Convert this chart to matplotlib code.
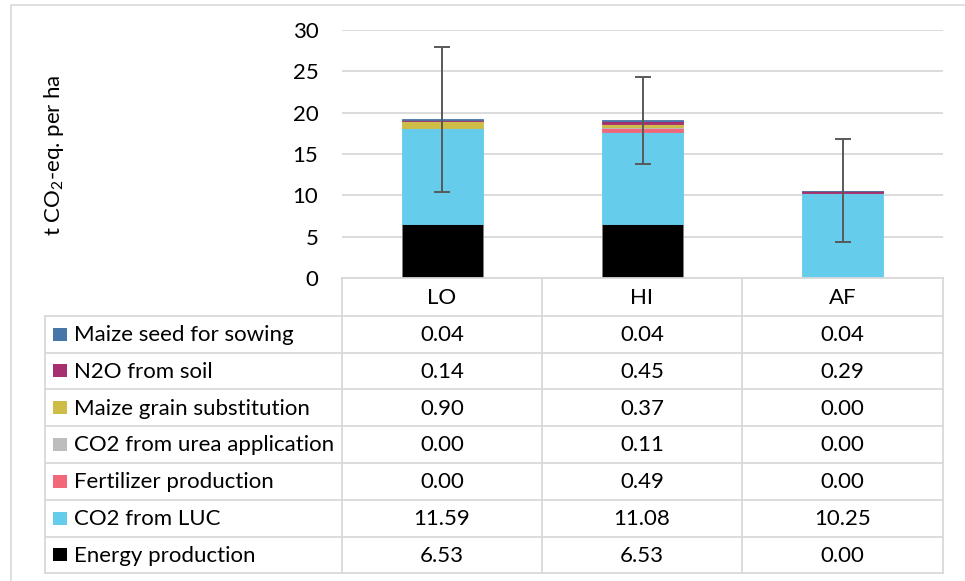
import matplotlib
matplotlib.use("Agg")
import matplotlib.pyplot as plt
from matplotlib.patches import Rectangle
from matplotlib.lines import Line2D

plt.rcParams['font.family'] = ['Lato', 'DejaVu Sans']
plt.rcParams['mathtext.fontset'] = 'custom'
plt.rcParams['mathtext.rm'] = 'Lato'
plt.rcParams['mathtext.default'] = 'regular'

categories = ["LO", "HI", "AF"]
# bottom to top stacking order
series_names = ["Energy production", "CO2 from LUC", "Fertilizer production",
                "CO2 from urea application", "Maize grain substitution",
                "N2O from soil", "Maize seed for sowing"]
energy = [6.53, 6.53, 0.00]
luc = [11.59, 11.08, 10.25]
fertilizer = [0.00, 0.49, 0.00]
urea = [0.00, 0.11, 0.00]
grain = [0.90, 0.37, 0.00]
n2o = [0.14, 0.45, 0.29]
seed = [0.04, 0.04, 0.04]
errors = [8.77, 5.25, 6.19]
yticks = [0, 5, 10, 15, 20, 25, 30]

series_values = [energy, luc, fertilizer, urea, grain, n2o, seed]
colors = ["#000000", "#66CCEC", "#F0687A", "#BDBDBD", "#CDBC46", "#A62F70", "#4677A8"]

FS = 16
W, H = 965, 581
fig = plt.figure(figsize=(W / 100, H / 100), dpi=100)

def fx(px):
    return px / W

def fy(py):
    return 1 - py / H

# outer chart border
fig.add_artist(Rectangle((fx(10.5), fy(600)), fx(1000), fy(5) - fy(600),
                         transform=fig.transFigure, fill=False,
                         edgecolor="#D9D9D9", linewidth=1.2))

x_left, x_right = 342, 943
y_top, y_zero = 30, 278
ax = fig.add_axes([fx(x_left), fy(y_zero), fx(x_right) - fx(x_left), fy(y_top) - fy(y_zero)])
ax.set_xlim(-0.5, 2.5)
ax.set_ylim(0, 30)
ax.set_yticks(yticks)
ax.set_yticklabels([str(v) for v in yticks], fontsize=FS)
ax.tick_params(axis='y', length=0, pad=17)
ax.set_xticks([])
for s in ax.spines.values():
    s.set_visible(False)
ax.grid(axis='y', color="#D9D9D9", linewidth=1.3)
ax.set_axisbelow(True)

xs = list(range(len(categories)))
bottoms = [0.0] * len(categories)
for vals, c in zip(series_values, colors):
    ax.bar(xs, vals, width=0.405, bottom=bottoms, color=c, zorder=2,
           edgecolor="#7F7F7F" if c == "#000000" else c, linewidth=0.6)
    bottoms = [b + v for b, v in zip(bottoms, vals)]
ax.errorbar(xs, bottoms, yerr=errors, fmt='none', ecolor="#595959",
            elinewidth=1.4, capsize=5.5, capthick=1.4, zorder=3)

fig.text(fx(54), fy(155), "t CO$_2$-eq. per ha", rotation=90, ha='center', va='center',
         fontsize=FS)

# data table
tab_left = 45
col_edges = [x_left, 542, 742, x_right]
row_edges = [278, 315.5, 352.5, 389.3, 426, 462.7, 499.7, 536.5, 573.3]
grid_c = "#D9D9D9"
lw = 1.3

def hline(y, x0, x1):
    fig.add_artist(Line2D([fx(x0), fx(x1)], [fy(y), fy(y)], transform=fig.transFigure,
                          color=grid_c, linewidth=lw))

def vline(x, y0, y1):
    fig.add_artist(Line2D([fx(x), fx(x)], [fy(y0), fy(y1)], transform=fig.transFigure,
                          color=grid_c, linewidth=lw))

hline(row_edges[0], x_left, x_right)
for y in row_edges[1:]:
    hline(y, tab_left, x_right)
vline(tab_left, row_edges[1], row_edges[-1])
for x in col_edges:
    vline(x, row_edges[0], row_edges[-1])

# header
for i, cat in enumerate(categories):
    cx = (col_edges[i] + col_edges[i + 1]) / 2
    cy = (row_edges[0] + row_edges[1]) / 2 + 1
    fig.text(fx(cx), fy(cy), cat, ha='center', va='center', fontsize=FS)

# rows: top row is last stacked series
display_order = list(range(len(series_names)))[::-1]
for r, si in enumerate(display_order):
    y0, y1 = row_edges[r + 1], row_edges[r + 2]
    cy = (y0 + y1) / 2
    fig.add_artist(Rectangle((fx(53), fy(cy + 6.5)), fx(13.5), fy(cy - 6.5) - fy(cy + 6.5),
                             transform=fig.transFigure, facecolor=colors[si],
                             edgecolor='none'))
    fig.text(fx(73.5), fy(cy + 1), series_names[si], ha='left', va='center', fontsize=FS)
    for i in range(len(categories)):
        cx = (col_edges[i] + col_edges[i + 1]) / 2
        fig.text(fx(cx), fy(cy + 1), f"{series_values[si][i]:.2f}", ha='center',
                 va='center', fontsize=FS)

fig.savefig("out.png", dpi=100)
